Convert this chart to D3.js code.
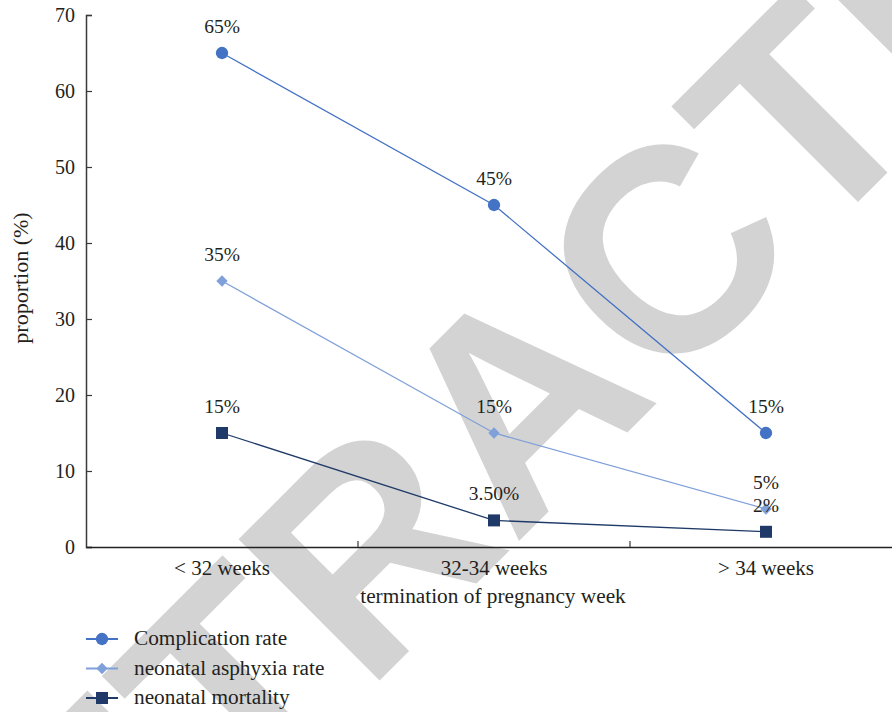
<!DOCTYPE html>
<html>
<head>
<meta charset="utf-8">
<script src="https://cdn.jsdelivr.net/npm/d3@7/dist/d3.min.js"></script>
<style>
  body { margin: 0; background: #fff; }
  svg { display: block; }
</style>
</head>
<body>
<svg id="chart" width="892" height="712"></svg>
<script>
// ---- data ----
const categories = ["< 32 weeks", "32-34 weeks", "> 34 weeks"];
const seriesNames = ["Complication rate", "neonatal asphyxia rate", "neonatal mortality"];
const complicationRate = [65, 45, 15];
const asphyxiaRate = [35, 15, 5];
const mortalityRate = [15, 3.5, 2];
const complicationLabels = ["65%", "45%", "15%"];
const asphyxiaLabels = ["35%", "15%", "5%"];
const mortalityLabels = ["15%", "3.50%", "2%"];
const yTicks = [0, 10, 20, 30, 40, 50, 60, 70];
const watermarkText = "RETRACTED";

const SERIF = "'Liberation Serif', 'Times New Roman', Times, 'DejaVu Serif', serif";
const TXT = "#231f20";

const series = [
  { name: seriesNames[0], values: complicationRate, labels: complicationLabels, color: "#4472c4", symbol: d3.symbolCircle, size: 120 },
  { name: seriesNames[1], values: asphyxiaRate, labels: asphyxiaLabels, color: "#7fa0d9", symbol: d3.symbolSquare, size: 64, rotate: 45 },
  { name: seriesNames[2], values: mortalityRate, labels: mortalityLabels, color: "#1f3a68", symbol: d3.symbolSquare, size: 144 }
];

const svg = d3.select("#chart");

// ---- watermark (behind) ----
svg.append("text")
  .attr("transform", "translate(588,472) rotate(-45)")
  .attr("text-anchor", "middle")
  .attr("font-family", "'Liberation Sans', Arial, sans-serif")
  .attr("font-weight", "bold")
  .attr("font-size", 290)
  .attr("fill", "#d3d3d3")
  .text(watermarkText);

// ---- scales ----
const x = d3.scaleBand().domain(categories).range([86, 902]).paddingInner(0).paddingOuter(0);
const y = d3.scaleLinear().domain([0, 70]).range([547, 15]);
const cx = d => x(d) + x.bandwidth() / 2;

// ---- y axis ----
const yAxis = svg.append("g")
  .attr("transform", "translate(86,0)")
  .call(d3.axisLeft(y).tickValues(yTicks).tickSize(-6).tickPadding(11));
yAxis.attr("font-family", SERIF).attr("font-size", 20);
yAxis.select(".domain").attr("stroke", "#3a3a3a").attr("stroke-width", 1.5);
yAxis.selectAll(".tick line").attr("stroke", "#3a3a3a").attr("stroke-width", 1.2);
yAxis.selectAll(".tick text").attr("fill", TXT);

// ---- x axis ----
const xAxis = svg.append("g")
  .attr("transform", "translate(0,547)")
  .call(d3.axisBottom(x).tickSize(0).tickPadding(13));
xAxis.attr("font-family", SERIF).attr("font-size", 21);
xAxis.select(".domain").attr("stroke", "#222").attr("stroke-width", 1.5);
xAxis.selectAll(".tick text").attr("fill", TXT);
const boundaries = categories.map(c => x(c)).concat([x.range()[1]]);
xAxis.selectAll(".bound").data(boundaries.slice(1)).enter().append("line")
  .attr("class", "bound")
  .attr("x1", d => d).attr("x2", d => d)
  .attr("y1", 0).attr("y2", -6)
  .attr("stroke", "#3a3a3a").attr("stroke-width", 1.2);

// axis titles
svg.append("text")
  .attr("x", 493).attr("y", 603)
  .attr("text-anchor", "middle")
  .attr("font-family", SERIF).attr("font-size", 21.3).attr("fill", TXT)
  .text("termination of pregnancy week");
svg.append("text")
  .attr("transform", "translate(28,278) rotate(-90)")
  .attr("text-anchor", "middle")
  .attr("font-family", SERIF).attr("font-size", 22).attr("fill", TXT)
  .text("proportion (%)");

// ---- lines & markers ----
const line = d3.line().x((d, i) => cx(categories[i])).y(d => y(d));
series.forEach(s => {
  svg.append("path")
    .datum(s.values)
    .attr("d", line)
    .attr("fill", "none")
    .attr("stroke", s.color)
    .attr("stroke-width", 1.3);
  svg.selectAll(null).data(s.values).enter().append("path")
    .attr("d", d3.symbol().type(s.symbol).size(s.size))
    .attr("transform", (d, i) => `translate(${cx(categories[i])},${y(d)}) rotate(${s.rotate || 0})`)
    .attr("fill", s.color);
});

// ---- data labels ----
series.forEach(s => {
  svg.selectAll(null).data(s.values).enter().append("text")
    .attr("x", (d, i) => cx(categories[i]))
    .attr("y", d => y(d) - 20)
    .attr("text-anchor", "middle")
    .attr("font-family", SERIF).attr("font-size", 19.5).attr("fill", TXT)
    .text((d, i) => s.labels[i]);
});

// ---- legend ----
const legend = svg.append("g");
series.forEach((s, i) => {
  const ly = 639 + i * 29.5;
  legend.append("line")
    .attr("x1", 86).attr("x2", 118).attr("y1", ly).attr("y2", ly)
    .attr("stroke", s.color).attr("stroke-width", 2);
  legend.append("path")
    .attr("d", d3.symbol().type(s.symbol).size(s.size))
    .attr("transform", `translate(102,${ly}) rotate(${s.rotate || 0})`)
    .attr("fill", s.color);
  legend.append("text")
    .attr("x", 134).attr("y", ly + 6)
    .attr("font-family", SERIF).attr("font-size", 21.3).attr("fill", TXT)
    .text(s.name);
});
</script>
</body>
</html>
